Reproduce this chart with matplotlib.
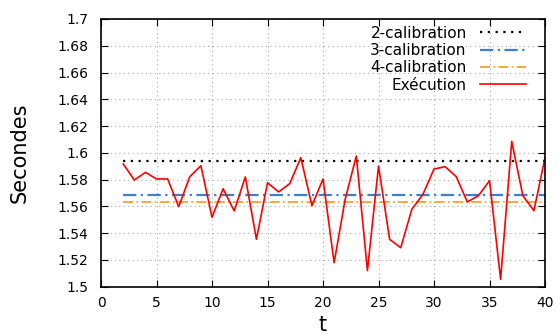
import matplotlib
matplotlib.use('Agg')
import matplotlib.pyplot as plt
import numpy as np

# execution times per iteration t
t = list(range(2, 41))
execution = [1.5917, 1.5797, 1.5854, 1.5805, 1.5805, 1.5598, 1.5822, 1.5904,
             1.5518, 1.5732, 1.5566, 1.5820, 1.5354, 1.5777, 1.5708, 1.5770,
             1.5964, 1.5605, 1.5805, 1.5179, 1.5655, 1.5976, 1.5120, 1.5902,
             1.5354, 1.5291, 1.5578, 1.5690, 1.5879, 1.5897, 1.5822, 1.5633,
             1.5680, 1.5792, 1.5055, 1.6086, 1.5680, 1.5568, 1.5964]

# calibration levels
calib_labels = ['2-calibration', '3-calibration', '4-calibration']
calib_values = [1.5939, 1.5687, 1.5630]

y_ticks = [1.5, 1.52, 1.54, 1.56, 1.58, 1.6, 1.62, 1.64, 1.66, 1.68, 1.7]
x_ticks = [0, 5, 10, 15, 20, 25, 30, 35, 40]

fig = plt.figure(figsize=(5.59, 3.35), dpi=100)
ax = fig.add_axes([0.1807, 0.1442, 0.975 - 0.1807, 0.9433 - 0.1442])

styles = [dict(color='black', linestyle=(0, (1, 2.5)), linewidth=1.6),
          dict(color='#3a80cc', linestyle=(0, (6, 2, 1, 2)), linewidth=1.6),
          dict(color='#ff9a1a', linestyle=(0, (6, 2, 1, 2)), linewidth=1.2)]
for lab, val, st in zip(calib_labels, calib_values, styles):
    ax.plot([t[0], t[-1]], [val, val], label=lab, **st)

ax.plot(t, execution, color='red', linewidth=1.2, label='Exécution')

ax.set_xlim(0, 40)
ax.set_ylim(1.5, 1.7)
ax.set_xticks(x_ticks)
ax.set_yticks(y_ticks)
ax.set_yticklabels([('%.2f' % v).rstrip('0').rstrip('.') for v in y_ticks])
ax.tick_params(direction='in', top=True, right=True, length=5, width=0.8,
               labelsize=10)
ax.tick_params(axis='y', pad=9)
ax.tick_params(axis='x', pad=7)
ax.grid(True, color='#a8a8a8', linestyle=(0, (1, 3)), linewidth=0.8)
for s in ax.spines.values():
    s.set_linewidth(1.2)

ax.set_xlabel('t', fontsize=15, labelpad=3.5)
ax.set_ylabel('Secondes', fontsize=15, labelpad=20)

ax.legend(loc='upper right', bbox_to_anchor=(0.968, 0.992), frameon=False,
          markerfirst=False, fontsize=11, handlelength=3.0, labelspacing=0.15,
          borderaxespad=0, handletextpad=0.9, borderpad=0.3)

fig.savefig('out.png', dpi=100)
